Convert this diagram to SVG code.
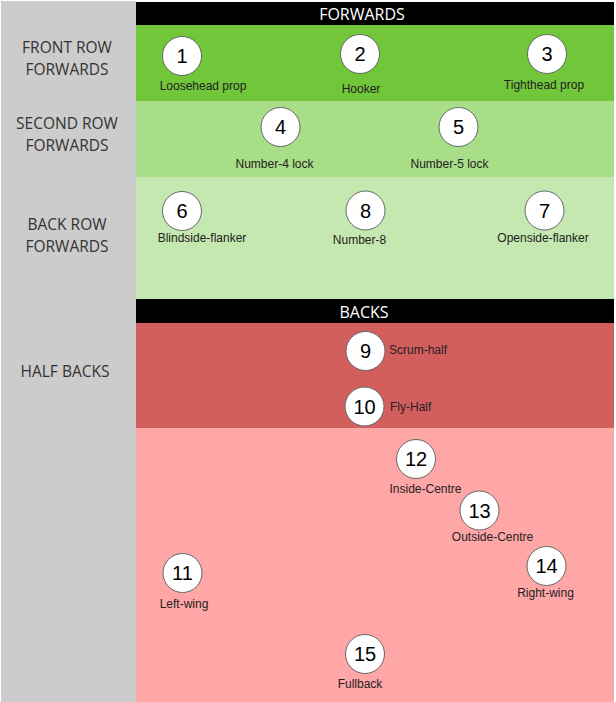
<svg xmlns="http://www.w3.org/2000/svg" width="616" height="702" viewBox="0 0 616 702">
<style>
.side{font-family:"Open Sans","Liberation Sans",sans-serif;font-size:15.5px;fill:#333333;text-anchor:middle}
.hdr{font-family:"Open Sans","Liberation Sans",sans-serif;font-size:16px;fill:#ffffff;text-anchor:middle}
.num{font-family:"Liberation Sans",Arial,sans-serif;font-size:20px;fill:#000000;text-anchor:middle}
.lbl{font-family:"Liberation Sans",Arial,sans-serif;font-size:12px;fill:#222222;text-anchor:middle}
.lbll{font-family:"Liberation Sans",Arial,sans-serif;font-size:12px;fill:#222222;text-anchor:start}
.c{fill:#ffffff;stroke:#666666;stroke-width:1}
</style>
<rect width="616" height="702" fill="#ffffff"/>
<g id="bands">
<rect x="1" y="1" width="135" height="701" fill="#cccccc"/>
<rect x="136" y="2" width="478" height="23" fill="#000000"/>
<rect x="136" y="25" width="478" height="76" fill="#72c63a"/>
<rect x="136" y="101" width="478" height="76" fill="#a9de88"/>
<rect x="136" y="177" width="478" height="122" fill="#c5e8b0"/>
<rect x="136" y="299" width="478" height="24" fill="#000000"/>
<rect x="136" y="323" width="478" height="105" fill="#d35e5e"/>
<rect x="136" y="428" width="478" height="274" fill="#ffa6a6"/>
</g>
<g id="headers">
<text class="hdr" x="362" y="20">FORWARDS</text>
<text class="hdr" x="364" y="318">BACKS</text>
</g>
<g id="side-labels">
<text class="side" x="67" y="53">FRONT ROW</text>
<text class="side" x="67" y="74.5">FORWARDS</text>
<text class="side" x="67" y="129">SECOND ROW</text>
<text class="side" x="67" y="150.5">FORWARDS</text>
<text class="side" x="67" y="230">BACK ROW</text>
<text class="side" x="67" y="251.5">FORWARDS</text>
<text class="side" x="65" y="377">HALF BACKS</text>
</g>
<g id="connectors"/>
<g id="p1"><circle class="c" cx="182" cy="56" r="19.5"/><text class="num" x="182" y="63">1</text><text class="lbl" x="203" y="90">Loosehead prop</text></g>
<g id="p2"><circle class="c" cx="360" cy="54" r="19.5"/><text class="num" x="360" y="61">2</text><text class="lbl" x="361" y="93">Hooker</text></g>
<g id="p3"><circle class="c" cx="547" cy="54" r="19.5"/><text class="num" x="547" y="61">3</text><text class="lbl" x="544" y="89">Tighthead prop</text></g>
<g id="p4"><circle class="c" cx="280.5" cy="127" r="19.5"/><text class="num" x="280.5" y="134">4</text><text class="lbl" x="274.5" y="168">Number-4 lock</text></g>
<g id="p5"><circle class="c" cx="458.5" cy="127" r="19.5"/><text class="num" x="458.5" y="134">5</text><text class="lbl" x="449.5" y="168">Number-5 lock</text></g>
<g id="p6"><circle class="c" cx="182" cy="211" r="19.5"/><text class="num" x="182" y="218">6</text><text class="lbl" x="202" y="242">Blindside-flanker</text></g>
<g id="p8"><circle class="c" cx="365.5" cy="210.5" r="19.5"/><text class="num" x="365.5" y="217.5">8</text><text class="lbl" x="359.5" y="244">Number-8</text></g>
<g id="p7"><circle class="c" cx="544.5" cy="210.5" r="19.5"/><text class="num" x="544.5" y="217.5">7</text><text class="lbl" x="543" y="242">Openside-flanker</text></g>
<g id="p9"><circle class="c" cx="365.5" cy="351" r="19.5"/><text class="num" x="365.5" y="358">9</text><text class="lbll" x="389" y="354">Scrum-half</text></g>
<g id="p10"><circle class="c" cx="364.5" cy="406.5" r="19.5"/><text class="num" x="364.5" y="413.5">10</text><text class="lbll" x="390" y="411">Fly-Half</text></g>
<g id="p12"><circle class="c" cx="416" cy="459" r="19.5"/><text class="num" x="416" y="466">12</text><text class="lbl" x="425.5" y="493">Inside-Centre</text></g>
<g id="p13"><circle class="c" cx="479.5" cy="510.5" r="19.5"/><text class="num" x="479.5" y="517.5">13</text><text class="lbl" x="492.5" y="541">Outside-Centre</text></g>
<g id="p11"><circle class="c" cx="182.5" cy="573" r="19.5"/><text class="num" x="182.5" y="580">11</text><text class="lbl" x="184" y="608">Left-wing</text></g>
<g id="p14"><circle class="c" cx="546.5" cy="566" r="19.5"/><text class="num" x="546.5" y="573">14</text><text class="lbl" x="545.5" y="597">Right-wing</text></g>
<g id="p15"><circle class="c" cx="365" cy="654" r="19.5"/><text class="num" x="365" y="661">15</text><text class="lbl" x="360" y="688">Fullback</text></g>
</svg>
